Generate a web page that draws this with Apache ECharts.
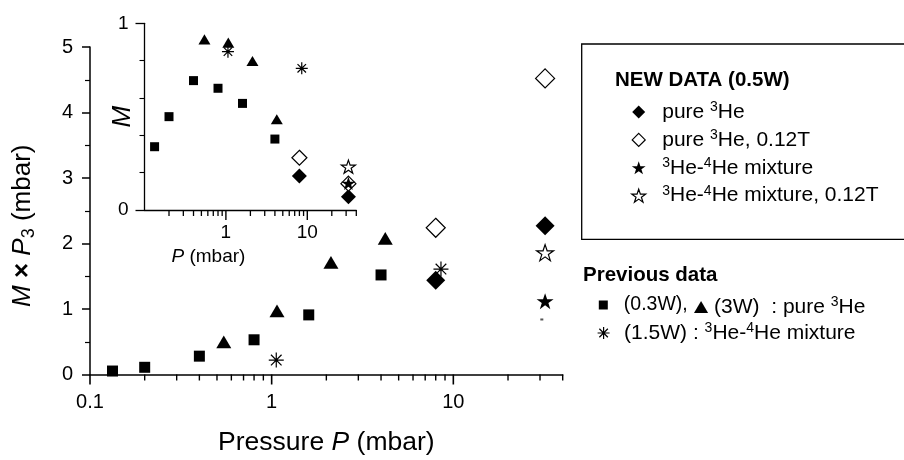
<!DOCTYPE html>
<html><head><meta charset="utf-8">
<script src="https://cdn.jsdelivr.net/npm/echarts@6/dist/echarts.min.js"></script>
<style>html,body{margin:0;padding:0;background:#fff}#c{width:904px;height:460px}</style>
</head><body><div id="c"></div><script>
const FONT = "'Liberation Sans', Arial, Helvetica, sans-serif";

// ---------- tick values ----------
const xMajorTicks = [0.1, 1, 10];
const xMinorTicks = [0.2, 0.3, 0.4, 0.5, 0.6, 0.7, 0.8, 0.9, 2, 3, 4, 5, 6, 7, 8, 9, 20, 30, 40];
const insetXLabels = [1, 10];

// ---------- data ----------
// previous data, 0.3W, pure 3He
const pPrev03 = [0.133, 0.2, 0.4, 0.8, 1.6, 4.0];
const mpPrev03 = [0.053, 0.11, 0.28, 0.53, 0.91, 1.52];
const mPrev03 = [0.339, 0.50, 0.693, 0.652, 0.571, 0.380];
// previous data, 3W, pure 3He
const pPrev3 = [0.545, 1.07, 2.12, 4.22];
const mpPrev3 = [0.50, 0.97, 1.71, 2.08];
const mPrev3 = [0.914, 0.896, 0.798, 0.486];
// previous data, 1.5W, mixture
const pPrevMix = [1.06, 8.55];
const mpPrevMix = [0.22, 1.61];
const mPrevMix = [0.848, 0.759];
// new data, pure 3He (0 T and 0.12 T)
const pNewPure = [8, 32];
const mpPure = [1.44, 2.27];
const mPure = [0.182, 0.071];
const mpPureB = [2.24, 4.52];
const mPureB = [0.28, 0.141];
// new data, mixture (0 T and 0.12 T)
const pNewMix = [32];
const mpMix = [1.12];
const mMix = [0.143];
const mpMixB = [1.86];
const mMixB = [0.232];
// stray small mark in main plot
const pStray = [30.7];
const mpStray = [0.84];

// ---------- names ----------
const N1 = 'pure 3He', N2 = 'pure 3He, 0.12T', N3 = '3He-4He mixture', N4 = '3He-4He mixture, 0.12T';
const N5 = '(0.3W),', N6 = '(3W)  : pure 3He', N7 = '(1.5W) : 3He-4He mixture';
const richNames = {};
richNames[N1] = '{n|pure }{s|3}{n|He}';
richNames[N2] = '{n|pure }{s|3}{n|He, 0.12T}';
richNames[N3] = '{s|3}{n|He-}{s|4}{n|He mixture}';
richNames[N4] = '{s|3}{n|He-}{s|4}{n|He mixture, 0.12T}';
richNames[N5] = '{n|(0.3W),}';
richNames[N6] = '{n|(3W)  : pure }{s|3}{n|He}';
richNames[N7] = '{n|(1.5W) : }{s|3}{n|He-}{s|4}{n|He mixture}';

// ---------- symbols ----------
const SQ = 'path://M0,0H10V10H0Z';
const DI = 'path://M5,0L10,5L5,10L0,5Z';
const TR = 'path://M5,0L10,8.5L0,8.5Z';
const ST = 'path://M50,0L61.8,35.1L98.9,35.1L69,56.9L80.3,91.9L50,70.2L19.7,91.9L31,56.9L1.1,35.1L38.2,35.1Z';
const AS = 'path://M0,-10L0,10M-10,0L10,0M-7.07,-7.07L7.07,7.07M-7.07,7.07L7.07,-7.07';

const FILL = {color: '#000', borderColor: '#000', borderWidth: 0, opacity: 1};
const OPEN = {color: '#fff', borderColor: '#000', borderWidth: 1.2, opacity: 1};
const LINE = {color: 'rgba(0,0,0,0)', borderColor: '#000', borderWidth: 1.2, opacity: 1};

function sc(name, xs, ys, symbol, size, style, inset) {
  return {
    type: 'scatter', name: name,
    xAxisIndex: inset ? 1 : 0, yAxisIndex: inset ? 1 : 0,
    symbol: symbol, symbolSize: size, symbolKeepAspect: true,
    itemStyle: style, emphasis: {disabled: true},
    data: xs.map((x, i) => [x, ys[i]])
  };
}

const series = [
  sc(N1, pNewPure, mpPure, DI, 19, FILL, false),
  sc(N2, pNewPure, mpPureB, DI, 19, OPEN, false),
  sc(N3, pNewMix, mpMix, ST, 17, FILL, false),
  sc(N4, pNewMix, mpMixB, ST, 17, OPEN, false),
  sc(N5, pPrev03, mpPrev03, SQ, 11, FILL, false),
  sc(N6, pPrev3, mpPrev3, TR, 15, FILL, false),
  sc(N7, pPrevMix, mpPrevMix, AS, 15, LINE, false),
  sc('stray', pStray, mpStray, SQ, [3, 2], {color: '#555', opacity: 1}, false),
  sc(N1, pNewPure, mPure, DI, 15, FILL, true),
  sc(N2, pNewPure, mPureB, DI, 15, OPEN, true),
  sc(N3, pNewMix, mMix, ST, 14, FILL, true),
  sc(N4, pNewMix, mMixB, ST, 14, OPEN, true),
  sc(N5, pPrev03, mPrev03, SQ, 9, FILL, true),
  sc(N6, pPrev3, mPrev3, TR, 12, FILL, true),
  sc(N7, pPrevMix, mPrevMix, AS, 12, LINE, true)
];

function legendText(size) {
  return {
    fontFamily: FONT, color: '#000', fontSize: size,
    rich: {
      n: {fontFamily: FONT, fontSize: size, color: '#000', lineHeight: 24},
      s: {fontFamily: FONT, fontSize: 14, color: '#000', lineHeight: 14, verticalAlign: 'top'}
    }
  };
}
function lg(data, left, top, w, h, extra) {
  return Object.assign({
    data: data, left: left, top: top, itemWidth: w, itemHeight: h, padding: 0,
    selectedMode: false, textStyle: legendText(21), formatter: n => richNames[n] || n,
    itemStyle: {borderWidth: 'inherit'}
  }, extra || {});
}

const axisLine = w => ({show: true, onZero: false, lineStyle: {color: '#000', width: w}});
const tickStyle = w => ({color: '#000', width: w});
const labelFmt = v => String(Number(Number(v).toPrecision(6)));

const baseGraphic = [
  {type: 'rect', shape: {x: 581.7, y: 44, width: 400, height: 195.3},
   style: {fill: 'none', stroke: '#000', lineWidth: 1.3}},
  {type: 'text', x: 615, y: 80,
   style: {text: 'NEW DATA (0.5W)', fill: '#000', font: 'bold 20.5px ' + FONT, verticalAlign: 'middle', textVerticalAlign: 'middle'}},
  {type: 'text', x: 583, y: 275,
   style: {text: 'Previous data', fill: '#000', font: 'bold 20.5px ' + FONT, verticalAlign: 'middle', textVerticalAlign: 'middle'}}
];

const option = {
  animation: false,
  backgroundColor: '#fff',
  textStyle: {fontFamily: FONT},
  grid: [
    {left: 90, top: 47, width: 472.7, height: 327.5, outerBoundsMode: 'none', containLabel: false},
    {left: 144.5, top: 23.3, width: 211.8, height: 186.7, outerBoundsMode: 'none', containLabel: false}
  ],
  xAxis: [
    {gridIndex: 0, type: 'log', logBase: 10, min: 0.1, max: 40, position: 'bottom',
     axisLine: axisLine(1.5), axisTick: {show: false},
     axisLabel: {customValues: xMajorTicks.slice(), formatter: labelFmt, margin: 18, fontSize: 20, color: '#000', fontFamily: FONT},
     splitLine: {show: false},
     name: '{n|Pressure }{i|P}{n| (mbar)}', nameLocation: 'middle', nameGap: 55, nameMoveOverlap: false,
     nameTextStyle: {rich: {
       n: {fontSize: 26.5, fontFamily: FONT, color: '#000'},
       i: {fontSize: 26.5, fontFamily: FONT, color: '#000', fontStyle: 'italic'}}}
    },
    {gridIndex: 1, type: 'log', logBase: 10, min: 0.1, max: 40, position: 'bottom',
     axisLine: axisLine(1.3), axisTick: {show: false},
     axisLabel: {customValues: insetXLabels.slice(), formatter: labelFmt, margin: 13, fontSize: 19, color: '#000', fontFamily: FONT},
     splitLine: {show: false},
     name: '{i|P}{n| (mbar)}', nameLocation: 'middle', nameGap: 37, nameMoveOverlap: false,
     nameTextStyle: {padding: [0, 84, 0, 0], rich: {
       n: {fontSize: 19, fontFamily: FONT, color: '#000'},
       i: {fontSize: 19, fontFamily: FONT, color: '#000', fontStyle: 'italic'}}}
    }
  ],
  yAxis: [
    {gridIndex: 0, type: 'value', min: 0, max: 5, interval: 1,
     axisLine: axisLine(1.5),
     axisTick: {show: true, length: 8, lineStyle: tickStyle(1.5)},
     minorTick: {show: true, splitNumber: 2, length: 5, lineStyle: tickStyle(1.2)},
     axisLabel: {margin: 17, fontSize: 20, color: '#000', fontFamily: FONT},
     splitLine: {show: false}, minorSplitLine: {show: false},
     name: '{i|M}{n| }{b|×}{n| }{i|P}{sub|3}{n| (mbar)}', nameLocation: 'middle', nameGap: 52, nameMoveOverlap: false,
     nameTextStyle: {padding: [0, 30, 0, 0], rich: {
       n: {fontSize: 26, fontFamily: FONT, color: '#000', lineHeight: 30},
       b: {fontSize: 26, fontFamily: FONT, color: '#000', fontWeight: 'bold', lineHeight: 30},
       i: {fontSize: 26, fontFamily: FONT, color: '#000', fontStyle: 'italic', lineHeight: 30},
       sub: {fontSize: 18, fontFamily: FONT, color: '#000', lineHeight: 18, verticalAlign: 'bottom'}}}
    },
    {gridIndex: 1, type: 'value', min: 0, max: 1, interval: 1,
     axisLine: axisLine(1.3),
     axisTick: {show: true, length: 9, lineStyle: tickStyle(1.3)},
     minorTick: {show: true, splitNumber: 5, length: 5, lineStyle: tickStyle(1.1)},
     axisLabel: {margin: 16, fontSize: 19, color: '#000', fontFamily: FONT},
     splitLine: {show: false}, minorSplitLine: {show: false},
     name: 'M', nameLocation: 'middle', nameGap: 9, nameMoveOverlap: false,
     nameTextStyle: {fontSize: 26, fontStyle: 'italic', fontFamily: FONT, color: '#000'}
    }
  ],
  legend: [
    lg([N1, N2, N3, N4], 631.2, 100, 37, 13, {orient: 'vertical', itemGap: 5.4}),
    lg([N5], 598.8, 295, 31, 9, {textStyle: legendText(19.5)}),
    lg([N6], 694, 295, 16, 12),
    lg([N7], 597, 321, 31, 12)
  ],
  graphic: baseGraphic,
  series: series
};

const chart = echarts.init(document.getElementById('c'), null, {renderer: 'canvas'});
chart.setOption(option);

// log-axis tick marks (outside, below the axis), positioned through the axes' own scales
function tickMarks(values, idx, len, width) {
  const out = [];
  values.forEach(v => {
    const p = chart.convertToPixel({xAxisIndex: idx, yAxisIndex: idx}, [v, 0]);
    if (p && isFinite(p[0]) && isFinite(p[1])) {
      out.push({type: 'rect', z: 100,
                shape: {x: p[0] - width / 2, y: p[1], width: width, height: len},
                style: {fill: '#000'}});
    }
  });
  return out;
}
chart.setOption({graphic: {elements: baseGraphic.concat(
  tickMarks(xMajorTicks, 0, 10, 1.6),
  tickMarks(xMinorTicks, 0, 6, 1.4),
  tickMarks(insetXLabels, 1, 10, 1.4),
  tickMarks(xMinorTicks, 1, 6, 1.3)
)}});
</script></body></html>
